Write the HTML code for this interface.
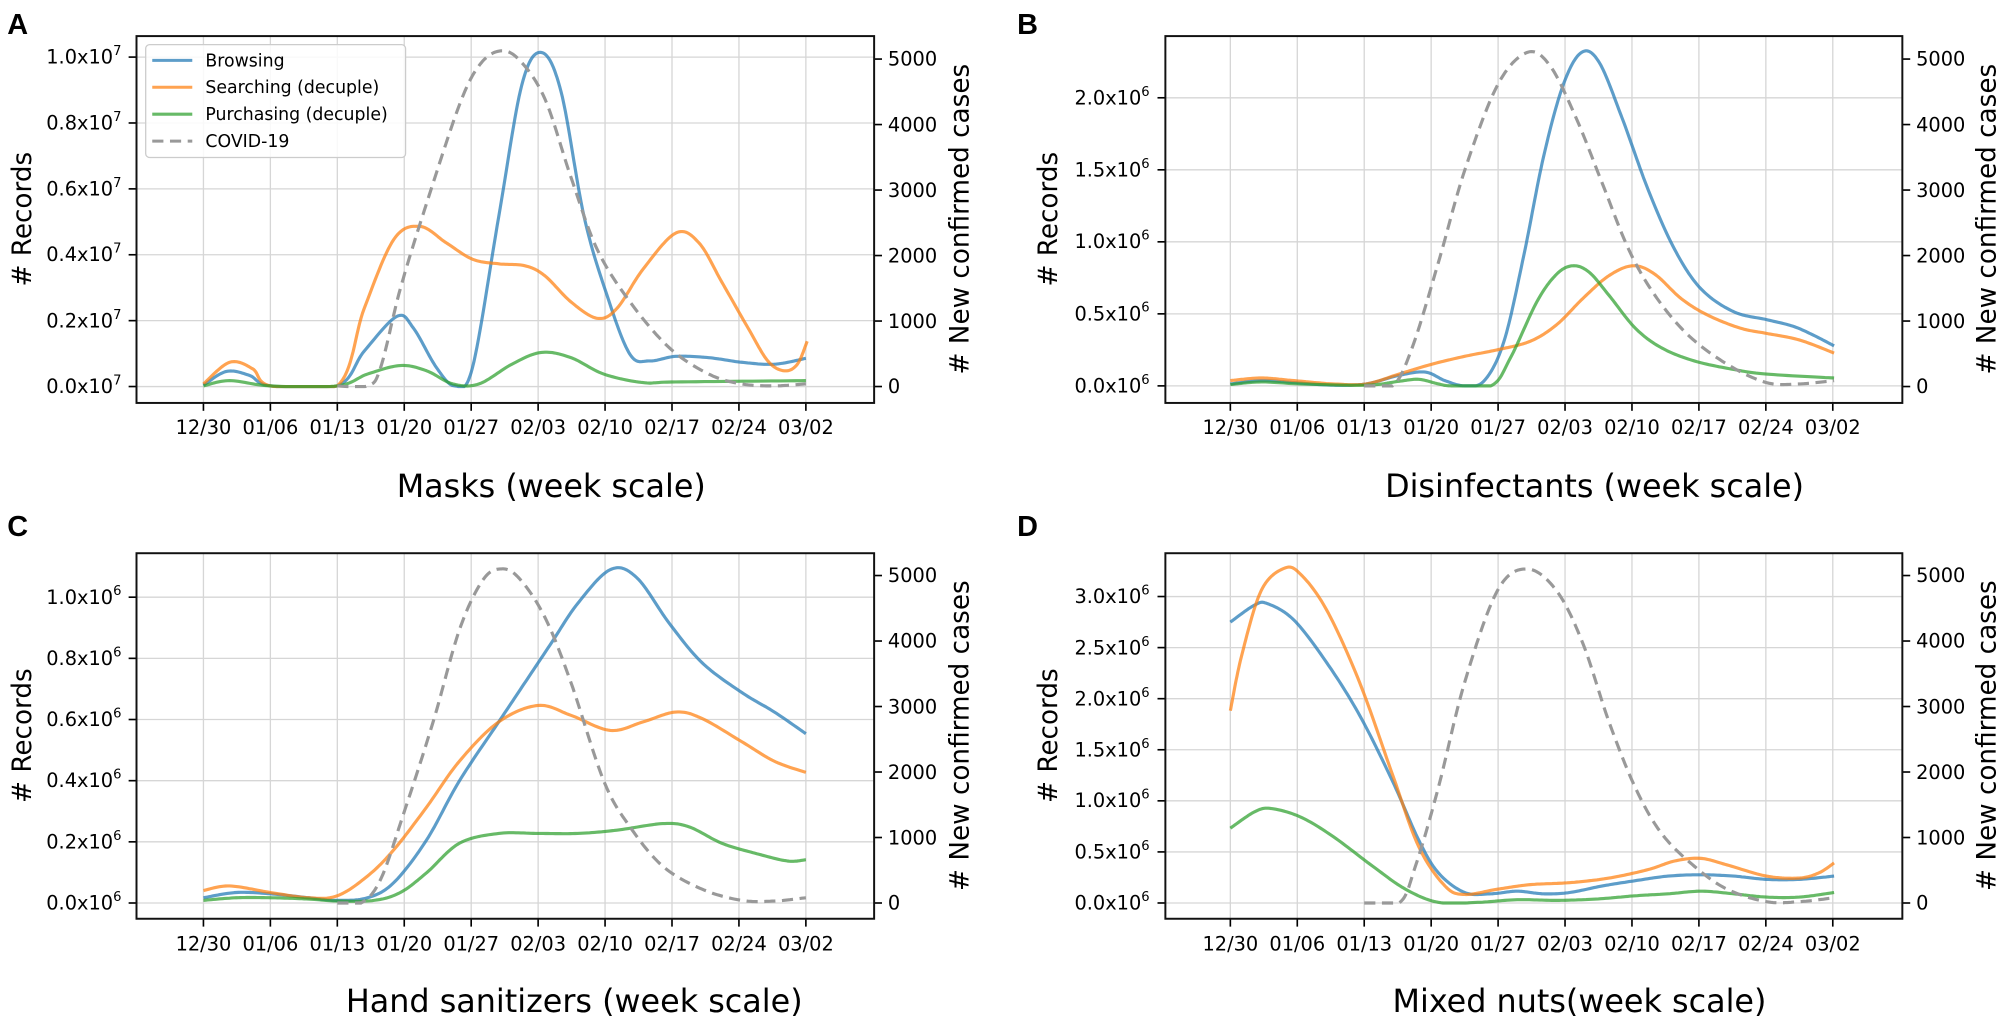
<!DOCTYPE html>
<html><head><meta charset="utf-8">
<style>
html,body{margin:0;padding:0;background:#fff;}
body{width:2008px;height:1029px;position:relative;overflow:hidden;}
svg{position:absolute;top:0;}
text{font-family:"DejaVu Sans","Liberation Sans",sans-serif;fill:#000;}
.tk{font-size:29.5px;}
.sup{font-size:20px;}
.lab{font-size:40px;}
.ttl{font-size:48.5px;}
.lg{font-size:26.4px;}
.pl{font-family:"Liberation Sans",sans-serif;font-weight:bold;font-size:44px;}
</style></head><body>
<svg id="L" style="left:0" width="1029" height="1029" viewBox="0 0 1568 1568">
<g id="Lg"></g>
<text class="pl" x="11" y="52">A</text>
<g class="tk" text-anchor="end">
<text x="185" y="97">1.0x10<tspan class="sup" dy="-13">7</tspan></text>
<text x="185" y="197">0.8x10<tspan class="sup" dy="-13">7</tspan></text>
<text x="185" y="298">0.6x10<tspan class="sup" dy="-13">7</tspan></text>
<text x="185" y="398">0.4x10<tspan class="sup" dy="-13">7</tspan></text>
<text x="185" y="499">0.2x10<tspan class="sup" dy="-13">7</tspan></text>
<text x="185" y="599">0.0x10<tspan class="sup" dy="-13">7</tspan></text>
</g>
<g class="tk">
<text x="1353" y="100">5000</text><text x="1353" y="200">4000</text><text x="1353" y="300">3000</text>
<text x="1353" y="400">2000</text><text x="1353" y="500">1000</text><text x="1353" y="599">0</text>
</g>
<g class="tk" text-anchor="middle">
<text x="310" y="661">12/30</text><text x="412" y="661">01/06</text><text x="514" y="661">01/13</text><text x="616" y="661">01/20</text><text x="718" y="661">01/27</text><text x="820" y="661">02/03</text><text x="922" y="661">02/10</text><text x="1024" y="661">02/17</text><text x="1126" y="661">02/24</text><text x="1228" y="661">03/02</text>
</g>
<text class="lab" text-anchor="middle" transform="translate(47,334) rotate(-90)">#  Records</text>
<text class="lab" text-anchor="middle" transform="translate(1476,334) rotate(-90)"># New confirmed cases</text>
<text class="ttl" text-anchor="middle" x="840" y="757">Masks (week scale)</text>
<rect x="222" y="68" width="396" height="172" rx="6" fill="#fff" fill-opacity="0.85" stroke="#cccccc" stroke-width="2"/>
<line x1="232" y1="92" x2="293" y2="92" stroke="#1f77b4" stroke-opacity="0.72" stroke-width="4.6"/>
<line x1="232" y1="133" x2="293" y2="133" stroke="#ff7f0e" stroke-opacity="0.72" stroke-width="4.6"/>
<line x1="232" y1="174" x2="293" y2="174" stroke="#2ca02c" stroke-opacity="0.72" stroke-width="4.6"/>
<line x1="232" y1="215" x2="293" y2="215" stroke="#999" stroke-width="4.6" stroke-dasharray="17,10"/>
<g class="lg"><text x="313" y="101">Browsing</text><text x="313" y="142">Searching (decuple)</text><text x="313" y="183">Purchasing (decuple)</text><text x="313" y="224">COVID-19</text></g>
<text class="pl" x="11" y="817">C</text>
<g class="tk" text-anchor="end">
<text x="185" y="920">1.0x10<tspan class="sup" dy="-13">6</tspan></text>
<text x="185" y="1013">0.8x10<tspan class="sup" dy="-13">6</tspan></text>
<text x="185" y="1106">0.6x10<tspan class="sup" dy="-13">6</tspan></text>
<text x="185" y="1199">0.4x10<tspan class="sup" dy="-13">6</tspan></text>
<text x="185" y="1293">0.2x10<tspan class="sup" dy="-13">6</tspan></text>
<text x="185" y="1386">0.0x10<tspan class="sup" dy="-13">6</tspan></text>
</g>
<g class="tk">
<text x="1353" y="887">5000</text><text x="1353" y="987">4000</text><text x="1353" y="1087">3000</text>
<text x="1353" y="1187">2000</text><text x="1353" y="1287">1000</text><text x="1353" y="1386">0</text>
</g>
<g class="tk" text-anchor="middle">
<text x="310" y="1448">12/30</text><text x="412" y="1448">01/06</text><text x="514" y="1448">01/13</text><text x="616" y="1448">01/20</text><text x="718" y="1448">01/27</text><text x="820" y="1448">02/03</text><text x="922" y="1448">02/10</text><text x="1024" y="1448">02/17</text><text x="1126" y="1448">02/24</text><text x="1228" y="1448">03/02</text>
</g>
<text class="lab" text-anchor="middle" transform="translate(47,1121) rotate(-90)">#  Records</text>
<text class="lab" text-anchor="middle" transform="translate(1476,1121) rotate(-90)"># New confirmed cases</text>
<text class="ttl" text-anchor="middle" x="875" y="1542">Hand sanitizers (week scale)</text>
</svg>

<svg id="R" style="left:979px" width="1029" height="1029" viewBox="0 0 1568 1568">
<g id="Rg"></g>
<text class="pl" x="58" y="52">B</text>
<g class="tk" text-anchor="end">
<text x="260" y="159">2.0x10<tspan class="sup" dy="-13">6</tspan></text>
<text x="260" y="269">1.5x10<tspan class="sup" dy="-13">6</tspan></text>
<text x="260" y="378">1.0x10<tspan class="sup" dy="-13">6</tspan></text>
<text x="260" y="488">0.5x10<tspan class="sup" dy="-13">6</tspan></text>
<text x="260" y="598">0.0x10<tspan class="sup" dy="-13">6</tspan></text>
</g>
<g class="tk">
<text x="1428" y="100">5000</text><text x="1428" y="200">4000</text><text x="1428" y="300">3000</text>
<text x="1428" y="400">2000</text><text x="1428" y="500">1000</text><text x="1428" y="599">0</text>
</g>
<g class="tk" text-anchor="middle">
<text x="383" y="661">12/30</text><text x="485" y="661">01/06</text><text x="587" y="661">01/13</text><text x="689" y="661">01/20</text><text x="791" y="661">01/27</text><text x="893" y="661">02/03</text><text x="995" y="661">02/10</text><text x="1097" y="661">02/17</text><text x="1199" y="661">02/24</text><text x="1301" y="661">03/02</text>
</g>
<text class="lab" text-anchor="middle" transform="translate(119,334) rotate(-90)">#  Records</text>
<text class="lab" text-anchor="middle" transform="translate(1549,334) rotate(-90)"># New confirmed cases</text>
<text class="ttl" text-anchor="middle" x="938" y="757">Disinfectants (week scale)</text>

<text class="pl" x="58" y="817">D</text>
<g class="tk" text-anchor="end">
<text x="260" y="919">3.0x10<tspan class="sup" dy="-13">6</tspan></text>
<text x="260" y="997">2.5x10<tspan class="sup" dy="-13">6</tspan></text>
<text x="260" y="1075">2.0x10<tspan class="sup" dy="-13">6</tspan></text>
<text x="260" y="1153">1.5x10<tspan class="sup" dy="-13">6</tspan></text>
<text x="260" y="1230">1.0x10<tspan class="sup" dy="-13">6</tspan></text>
<text x="260" y="1308">0.5x10<tspan class="sup" dy="-13">6</tspan></text>
<text x="260" y="1386">0.0x10<tspan class="sup" dy="-13">6</tspan></text>
</g>
<g class="tk">
<text x="1428" y="887">5000</text><text x="1428" y="987">4000</text><text x="1428" y="1087">3000</text>
<text x="1428" y="1187">2000</text><text x="1428" y="1287">1000</text><text x="1428" y="1386">0</text>
</g>
<g class="tk" text-anchor="middle">
<text x="383" y="1448">12/30</text><text x="485" y="1448">01/06</text><text x="587" y="1448">01/13</text><text x="689" y="1448">01/20</text><text x="791" y="1448">01/27</text><text x="893" y="1448">02/03</text><text x="995" y="1448">02/10</text><text x="1097" y="1448">02/17</text><text x="1199" y="1448">02/24</text><text x="1301" y="1448">03/02</text>
</g>
<text class="lab" text-anchor="middle" transform="translate(119,1121) rotate(-90)">#  Records</text>
<text class="lab" text-anchor="middle" transform="translate(1549,1121) rotate(-90)"># New confirmed cases</text>
<text class="ttl" text-anchor="middle" x="915" y="1542">Mixed nuts(week scale)</text>
</svg>

<script>
var NS="http://www.w3.org/2000/svg";
function el(g,n,a){var e=document.createElementNS(NS,n);for(var k in a)e.setAttribute(k,a[k]);g.appendChild(e);return e;}
function cr(p,yz){var out=[];
 for(var i=0;i<p.length-1;i++){var p0=p[i>0?i-1:0],p1=p[i],p2=p[i+1],p3=p[i+2<p.length?i+2:i+1];
  var c1x=p1[0]+(p2[0]-p0[0])/6,c1y=p1[1]+(p2[1]-p0[1])/6,c2x=p2[0]-(p3[0]-p1[0])/6,c2y=p2[1]-(p3[1]-p1[1])/6;
  for(var t=(i==0?0:1);t<=16;t++){var u=t/16,a=(1-u)*(1-u)*(1-u),b=3*(1-u)*(1-u)*u,c=3*(1-u)*u*u,d=u*u*u;
   var x=a*p1[0]+b*c1x+c*c2x+d*p2[0],y=a*p1[1]+b*c1y+c*c2y+d*p2[1];if(y>yz)y=yz;out.push(x.toFixed(1)+","+y.toFixed(1));}}
 return "M"+out.join(" L");}
function panel(g,c){
 var x0=c.x0,x1=c.x1,y0=c.y0,y1=c.y1;
 c.xt.forEach(function(x){el(g,"line",{x1:x,x2:x,y1:y0,y2:y1,stroke:"#d6d6d6","stroke-width":2});});
 c.yt.forEach(function(y){el(g,"line",{x1:x0,x2:x1,y1:y,y2:y,stroke:"#d6d6d6","stroke-width":2});});
 c.xt.forEach(function(x){el(g,"line",{x1:x,x2:x,y1:y1,y2:y1+12,stroke:"#000","stroke-width":2.5});});
 c.yt.forEach(function(y){el(g,"line",{x1:x0-12,x2:x0,y1:y,y2:y,stroke:"#000","stroke-width":2.5});});
 c.rt.forEach(function(y){el(g,"line",{x1:x1,x2:x1+12,y1:y,y2:y,stroke:"#000","stroke-width":2.5});});
 var cols=["#1f77b4","#ff7f0e","#2ca02c"];
 for(var i=0;i<3;i++)el(g,"path",{d:cr(c.s[i],c.z),fill:"none",stroke:cols[i],"stroke-opacity":0.72,"stroke-width":4.8,"stroke-linejoin":"round"});
 el(g,"path",{d:cr(c.s[3],c.z),fill:"none",stroke:"#999","stroke-width":4.8,"stroke-dasharray":"17,10"});
 el(g,"rect",{x:x0,y:y0,width:x1-x0,height:y1-y0,fill:"none",stroke:"#111","stroke-width":3});
}
function rng(a,n,s){var r=[];for(var i=0;i<n;i++)r.push(a+i*s);return r;}
var XL=rng(310,10,102),XR=rng(383,10,102);
var L=document.getElementById("Lg"),R=document.getElementById("Rg");
panel(L,{z:589,x0:208,x1:1332,y0:55,y1:614,xt:XL,yt:rng(87,6,100.4),rt:rng(90,6,99.8),s:[
[[310,587],[345,566],[380,572],[412,588],[514,588],[555,535],[605,482],[630,500],[665,560],[693,588],[720,560],[760,330],[795,130],[825,80],[855,140],[890,330],[925,450],[960,540],[990,550],[1030,543],[1080,545],[1130,552],[1180,555],[1228,546]],
[[310,585],[350,552],[385,562],[412,588],[514,588],[555,470],[600,365],[640,345],[680,370],[720,395],[760,402],[800,405],[830,420],[870,460],[910,485],[940,470],[980,410],[1030,355],[1065,370],[1100,430],[1140,500],[1170,550],[1195,565],[1215,555],[1230,520]],
[[310,588],[350,580],[412,588],[514,588],[560,570],[610,557],[650,565],[690,585],[730,585],[780,555],[825,537],[870,545],[920,570],[980,583],[1030,582],[1228,580]],
[[514,588],[560,588],[580,560],[610,440],[650,310],[700,160],[730,100],[760,78],[790,90],[830,150],[870,270],[910,380],[960,460],[1020,530],[1080,570],[1130,585],[1180,588],[1228,585]]]});
panel(L,{z:1376,x0:208,x1:1332,y0:843,y1:1400,xt:XL,yt:rng(910,6,93.2),rt:rng(877,6,99.8),s:[
[[310,1368],[360,1360],[412,1362],[470,1368],[514,1372],[560,1368],[600,1345],[650,1280],[700,1190],[760,1100],[800,1040],[840,980],[880,920],[930,868],[970,880],[1020,950],[1070,1010],[1130,1055],[1180,1085],[1228,1118]],
[[310,1357],[350,1350],[412,1360],[470,1368],[514,1365],[560,1335],[600,1295],[650,1230],[700,1160],[760,1100],[820,1075],[870,1090],[930,1113],[980,1100],[1030,1085],[1070,1095],[1130,1130],[1180,1160],[1228,1177]],
[[310,1372],[360,1368],[412,1368],[470,1370],[514,1373],[570,1372],[610,1360],[650,1330],[700,1285],[760,1270],[820,1270],[880,1270],[940,1265],[1010,1255],[1050,1260],[1100,1285],[1150,1300],[1200,1312],[1228,1310]],
[[514,1376],[550,1376],[580,1340],[615,1240],[660,1100],[700,960],[735,885],[762,867],[790,880],[830,940],[870,1040],[920,1190],[960,1260],[1010,1320],[1070,1355],[1130,1372],[1180,1373],[1228,1368]]]});
panel(R,{z:588,x0:284,x1:1407,y0:55,y1:614,xt:XR,yt:rng(149,5,109.75),rt:rng(90,6,99.8),s:[
[[383,585],[430,580],[480,583],[540,587],[590,585],[640,572],[680,567],[710,580],[740,588],[770,580],[800,520],[830,390],[860,240],[890,130],[918,80],[945,95],[980,180],[1020,290],[1060,380],[1100,440],[1150,475],[1200,487],[1240,497],[1270,510],[1303,527]],
[[383,580],[430,576],[480,580],[540,585],[590,585],[640,570],[690,555],[740,543],[790,533],[840,520],[880,495],[920,455],[960,420],[997,405],[1030,418],[1070,455],[1110,480],[1160,500],[1200,508],[1250,518],[1303,538]],
[[383,586],[430,582],[490,585],[590,587],[640,581],[670,578],[700,585],[720,588],[780,588],[810,545],[850,460],[880,418],[905,405],[930,415],[960,450],[1000,500],[1040,530],[1090,550],[1150,563],[1200,570],[1303,576]],
[[587,588],[630,588],[660,530],[700,400],[740,260],[790,130],[835,80],[870,100],[910,180],[950,280],[990,380],[1030,450],[1080,510],[1140,555],[1200,583],[1250,585],[1303,580]]]});
panel(R,{z:1376,x0:284,x1:1407,y0:843,y1:1400,xt:XR,yt:rng(909,7,77.83),rt:rng(877,6,99.8),s:[
[[383,948],[420,922],[440,920],[480,945],[530,1010],[580,1090],[630,1190],[670,1280],[700,1330],[740,1360],[780,1362],[820,1358],[860,1362],[900,1360],[950,1350],[1000,1342],[1050,1335],[1100,1333],[1150,1335],[1200,1340],[1250,1340],[1303,1335]],
[[383,1083],[400,1000],[430,900],[465,866],[490,875],[530,930],[580,1040],[630,1180],[670,1290],[710,1350],[740,1363],[790,1355],[840,1348],[900,1345],[960,1338],[1020,1325],[1060,1312],[1100,1308],[1140,1318],[1200,1335],[1250,1338],[1280,1330],[1303,1315]],
[[383,1262],[420,1237],[445,1232],[490,1245],[540,1275],[600,1320],[650,1355],[700,1375],[760,1375],[820,1371],[880,1372],[940,1370],[1000,1365],[1050,1362],[1100,1358],[1150,1362],[1200,1367],[1250,1367],[1303,1360]],
[[587,1376],[640,1376],[665,1320],[700,1200],[740,1040],[790,900],[835,867],[880,900],[920,980],[960,1100],[1000,1200],[1040,1270],[1090,1320],[1140,1355],[1200,1374],[1250,1374],[1303,1368]]]});
</script>
</body></html>
